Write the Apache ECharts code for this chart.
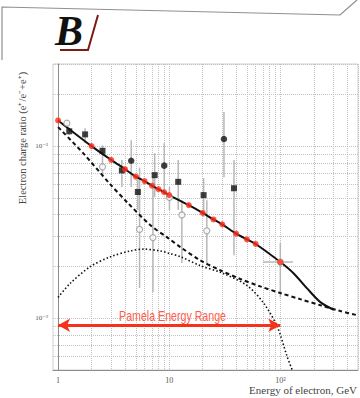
<!DOCTYPE html>
<html>
<head>
<meta charset="utf-8">
<script src="https://cdn.jsdelivr.net/npm/echarts@6/dist/echarts.min.js"></script>
<style>
html, body { margin: 0; padding: 0; background: #fff; }
#chart { width: 360px; height: 398px; }
</style>
</head>
<body>
<div id="chart"></div>
<script>
// Model curve (solid), sampled at the marked energies (GeV)
const fitEnergy = [1, 2, 3, 4, 5, 6, 7, 8, 9, 10, 15, 20, 25, 30, 40, 50, 60, 100];
const fitRatio  = [0.141, 0.100, 0.0832, 0.0735, 0.0665, 0.0626, 0.0589, 0.0562, 0.0540, 0.0519,
                   0.0454, 0.0409, 0.0375, 0.0351, 0.0310, 0.0287, 0.0270, 0.0212];
// Continuation of the solid curve above 100 GeV, until it joins the dashed one
const tailEnergy = [132, 174, 229, 302];
const tailRatio  = [0.0182, 0.0149, 0.0124, 0.0112];

// Dashed curve
const dashEnergy = [1, 1.68, 2.94, 4.18, 6.74, 9.79, 12.6, 19, 28.8, 43.6, 66, 100, 151, 229, 347, 494];
const dashRatio  = [0.129, 0.091, 0.0601, 0.0472, 0.0348, 0.0292, 0.0259, 0.0217, 0.0190, 0.0169,
                    0.0153, 0.0140, 0.0129, 0.0119, 0.0110, 0.0104];

// Dotted curve
const dotEnergy = [1, 1.28, 1.94, 2.94, 4.45, 5.87, 8.3, 10, 12.6, 19, 30, 50, 71, 94, 115, 128];
const dotRatio  = [0.0132, 0.0159, 0.0199, 0.0227, 0.0246, 0.0252, 0.0246, 0.0238, 0.0228, 0.0202,
                   0.0183, 0.0155, 0.0122, 0.0089, 0.0060, 0.0050];

// Measurements: filled squares
const sqEnergy = [1.26, 1.75, 2.51, 3.75, 5.22, 7.40, 12.05, 20.4, 38.3];
const sqRatio  = [0.122, 0.117, 0.0939, 0.0722, 0.0541, 0.0678, 0.0620, 0.0519, 0.0569];
const sqLow    = [0.116, 0.104, 0.083, 0.0578, 0.0425, 0.0505, 0.0425, 0.0387, 0.0232];
const sqHigh   = [0.128, 0.127, 0.101, 0.083, 0.0678, 0.091, 0.083, 0.0652, 0.083];

// Measurements: filled circles
const ciEnergy = [4.55, 9.02, 31.1];
const ciRatio  = [0.0822, 0.0770, 0.110];
const ciLow    = [0.0578, 0.0533, 0.066];
const ciHigh   = [0.108, 0.104, 0.158];

// Measurements: open circles
const opEnergy = [1.2, 2.51, 5.41, 7.14, 10.05, 13.0, 21.8, 100];
const opRatio  = [0.136, 0.0758, 0.0328, 0.0294, 0.0503, 0.0398, 0.0322, 0.0212];
const opLow    = [0.130, 0.066, 0.015, 0.0142, 0.0425, 0.0209, 0.0209, 0.0132];
const opHigh   = [0.142, 0.083, 0.075, 0.066, 0.0578, 0.0485, 0.0485, 0.0273];

// Energy-bin width shown for the 100 GeV point
const binLow = [70];
const binHigh = [130];
const binRatio = [0.0212];

// Energy range arrow
const rangeEnergy = [1, 100];
const rangeLevel = 0.0091;
const rangeText = 'Pamela Energy Range';

// Axis extents, labels and grid positions (physical units)
const xExtent = [0.9, 500];
const yExtent = [0.005, 0.3];
const xLabelValues = [1, 10, 100];
const xLabelTexts = ['1', '10', '10²'];
const yLabelValues = [0.01, 0.1];
const yLabelTexts = ['10⁻²', '10⁻¹'];
const xGridValues = [1, 2, 3, 4, 5, 6, 7, 8, 9, 10, 20, 30, 40, 50, 60, 70, 80, 90, 100, 200, 300, 400, 500];
const yGridValues = [0.005, 0.006, 0.007, 0.008, 0.009, 0.01, 0.02, 0.03, 0.04, 0.05, 0.06, 0.07, 0.08, 0.09, 0.1, 0.2, 0.3];

// Both axes are decades: everything is placed in log10 space
const L = Math.log10;
const zipLog = (a, b) => a.map((v, i) => [L(v), L(b[i])]);
const barsLog = (e, lo, hi) => e.map((v, i) => [L(v), L(lo[i]), L(hi[i])]);
const nearestText = (v, vals, texts) => {
  let best = 0;
  vals.forEach((t, i) => { if (Math.abs(L(t) - v) < Math.abs(L(vals[best]) - v)) best = i; });
  return texts[best];
};

const serif = '"Liberation Serif", "DejaVu Serif", serif';

function vBar(params, api) {
  const p0 = api.coord([api.value(0), api.value(1)]);
  const p1 = api.coord([api.value(0), api.value(2)]);
  return { type: 'line', shape: { x1: p0[0], y1: p0[1], x2: p1[0], y2: p1[1] },
           style: { stroke: '#b8b8b8', lineWidth: 1.5 } };
}
function hBar(params, api) {
  const p0 = api.coord([api.value(0), api.value(2)]);
  const p1 = api.coord([api.value(1), api.value(2)]);
  return { type: 'line', shape: { x1: p0[0], y1: p0[1], x2: p1[0], y2: p1[1] },
           style: { stroke: '#b8b8b8', lineWidth: 1.5 } };
}

const chart = echarts.init(document.getElementById('chart'), null, { renderer: 'svg' });

chart.setOption({
  animation: false,
  backgroundColor: '#fff',
  grid: { left: 53, right: 2, top: 64, bottom: 28, show: true, borderColor: '#cfcfcf', borderWidth: 1 },
  xAxis: {
    type: 'value', min: L(xExtent[0]), max: L(xExtent[1]),
    axisLine: { show: true, lineStyle: { color: '#8c8c8c', width: 1 } },
    axisTick: { show: false, customValues: xGridValues.map(L) },
    splitLine: { show: true, lineStyle: { color: '#c2c2c2', type: 'dotted', width: 1 } },
    axisLabel: {
      customValues: xLabelValues.map(L), margin: 6, color: '#555', fontFamily: serif, fontSize: 8,
      formatter: v => nearestText(v, xLabelValues, xLabelTexts)
    }
  },
  yAxis: {
    type: 'value', min: L(yExtent[0]), max: L(yExtent[1]),
    axisLine: { show: true, lineStyle: { color: '#8c8c8c', width: 1 } },
    axisTick: { show: false, customValues: yGridValues.map(L) },
    splitLine: { show: true, lineStyle: { color: '#c2c2c2', type: 'dotted', width: 1 } },
    axisLabel: {
      customValues: yLabelValues.map(L), margin: 5, color: '#555', fontFamily: serif, fontSize: 7,
      formatter: v => nearestText(v, yLabelValues, yLabelTexts)
    }
  },
  graphic: [
    { type: 'polyline', silent: true,
      shape: { points: [[2, 60], [2, 7], [340, 15], [357, 0]] },
      style: { stroke: '#8f8f8f', lineWidth: 1.2, fill: null } },
    { type: 'text', left: 55, top: 10, silent: true,
      style: { text: 'B', font: 'italic bold 42px "Liberation Serif", serif', fill: '#111' } },
    { type: 'polyline', silent: true,
      shape: { points: [[60, 50], [88, 50], [98, 15]] },
      style: { stroke: '#7b1c14', lineWidth: 2, fill: null } },
    { type: 'text', silent: true, x: 22, y: 138, rotation: Math.PI / 2,
      style: { text: 'Electron charge ratio (e⁺/e⁻+e⁺)', align: 'center', verticalAlign: 'middle',
               font: '10.5px "Liberation Serif", serif', fill: '#444' } },
    { type: 'text', silent: true, x: 357, y: 390,
      style: { text: 'Energy of electron, GeV', align: 'right', verticalAlign: 'middle',
               font: '11px "Liberation Serif", serif', fill: '#444' } }
  ],
  series: [
    { type: 'custom', name: 'vbars', renderItem: vBar, clip: true, z: 2,
      encode: { x: 0, y: [1, 2] },
      data: [].concat(barsLog(sqEnergy, sqLow, sqHigh), barsLog(ciEnergy, ciLow, ciHigh), barsLog(opEnergy, opLow, opHigh)) },
    { type: 'custom', name: 'hbars', renderItem: hBar, clip: true, z: 2,
      encode: { x: [0, 1], y: 2 },
      data: binLow.map((v, i) => [L(v), L(binHigh[i]), L(binRatio[i])]) },
    { type: 'line', name: 'dotted', data: zipLog(dotEnergy, dotRatio), smooth: 0.3, showSymbol: false, z: 3,
      clip: true, lineStyle: { color: '#111', width: 1.6, type: [1.5, 2.2] } },
    { type: 'line', name: 'dashed', data: zipLog(dashEnergy, dashRatio), smooth: 0.3, showSymbol: false, z: 3,
      lineStyle: { color: '#111', width: 2, type: [4, 3] } },
    { type: 'line', name: 'model', data: zipLog(fitEnergy.concat(tailEnergy), fitRatio.concat(tailRatio)),
      smooth: 0.3, showSymbol: false, z: 3, lineStyle: { color: '#111', width: 2 } },
    { type: 'scatter', name: 'open', data: zipLog(opEnergy, opRatio), symbol: 'circle', symbolSize: 6, z: 4,
      itemStyle: { color: '#fff', borderColor: '#9a9a9a', borderWidth: 1.2 } },
    { type: 'scatter', name: 'squares', data: zipLog(sqEnergy, sqRatio), symbol: 'rect', symbolSize: 6, z: 4,
      itemStyle: { color: '#111' } },
    { type: 'scatter', name: 'circles', data: zipLog(ciEnergy, ciRatio), symbol: 'circle', symbolSize: 6.5, z: 4,
      itemStyle: { color: '#111' } },
    { type: 'scatter', name: 'fit points', data: zipLog(fitEnergy, fitRatio), symbol: 'circle', symbolSize: 6, z: 5,
      itemStyle: { color: '#ff2b17' } },
    { type: 'line', name: 'range', data: [], z: 6,
      markLine: {
        silent: true, symbol: ['arrow', 'arrow'], symbolSize: [10, 12],
        lineStyle: { color: '#f6321c', width: 3, type: 'solid' },
        label: { show: false },
        data: [[{ coord: [L(rangeEnergy[0]), L(rangeLevel)] }, { coord: [L(rangeEnergy[1]), L(rangeLevel)] }]]
      } }
  ]
});

// Caption above the range arrow, centred on it; set in a narrow face
const mid = chart.convertToPixel({ gridIndex: 0 },
  [(L(rangeEnergy[0]) + L(rangeEnergy[1])) / 2 + 0.03, L(rangeLevel)]);
chart.setOption({
  graphic: [{
    id: 'rangeCaption', type: 'text', silent: true, x: mid[0], y: mid[1] - 9, scaleX: 0.76, z: 10,
    style: { text: rangeText, align: 'center', verticalAlign: 'middle',
             font: '14px "Liberation Sans", Arial, sans-serif', fill: '#ff5c4c' }
  }]
});
</script>
</body>
</html>
